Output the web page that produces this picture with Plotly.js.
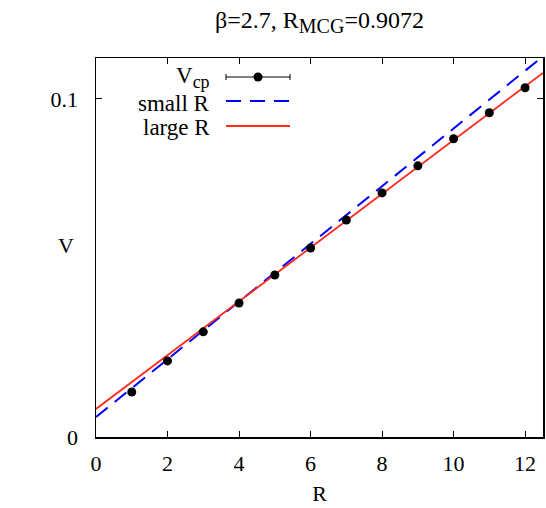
<!DOCTYPE html>
<html><head><meta charset="utf-8">
<script src="https://cdn.plot.ly/plotly-3.0.1.min.js"></script>
<style>html,body{margin:0;padding:0;background:#fff}#c{width:546px;height:508px}</style>
</head><body><div id="c"></div>
<script>
const R = [1,2,3,4,5,6,7,8,9,10,11,12];
const Vcp = [0.0133,0.0225,0.0311,0.0396,0.0479,0.0559,0.0642,0.0722,0.0802,0.0882,0.0959,0.1033];
const smallR_x = [0, 12.5];
const smallR_y = [0.0059, 0.1126];
const largeR_x = [0, 12.5];
const largeR_y = [0.0083, 0.1077];
const xTicks = [0,2,4,6,8,10,12];
const yTicks = [0, 0.1];
const yTickText = ['0','0.1'];

const F = 'Liberation Serif, Times New Roman, serif';
const traces = [
  {x: smallR_x, y: smallR_y, mode:'lines', line:{color:'#0000ff', width:2, dash:'15px,9px'}, showlegend:false, hoverinfo:'skip'},
  {x: largeR_x, y: largeR_y, mode:'lines', line:{color:'#ff2a1a', width:1.8}, showlegend:false, hoverinfo:'skip'},
  {x: R, y: Vcp, mode:'markers', marker:{color:'#000', size:9}, showlegend:false}
];

function px(p){return (p-96)/447;}
function py(p){return (437-p)/379;}

const shapes = [
  {type:'line', xref:'paper', yref:'paper', x0:px(226), x1:px(290), y0:py(77), y1:py(77), line:{color:'#000', width:1}},
  {type:'line', xref:'paper', yref:'paper', x0:px(226), x1:px(226), y0:py(74), y1:py(80), line:{color:'#000', width:1}},
  {type:'line', xref:'paper', yref:'paper', x0:px(290), x1:px(290), y0:py(74), y1:py(80), line:{color:'#000', width:1}},
  {type:'circle', xref:'paper', yref:'paper', xsizemode:'pixel', ysizemode:'pixel', xanchor:px(258), yanchor:py(77), x0:-4.5, x1:4.5, y0:-4.5, y1:4.5, fillcolor:'#000', line:{color:'#000', width:0}},
  {type:'line', xref:'paper', yref:'paper', x0:px(226), x1:px(290), y0:py(101), y1:py(101), line:{color:'#0000ff', width:2, dash:'15px,9px'}},
  {type:'line', xref:'paper', yref:'paper', x0:px(226), x1:px(290), y0:py(126), y1:py(126), line:{color:'#ff2a1a', width:1.8}}
];

const LF = {family:F, size:23, color:'#000'};
const annotations = [
  {xref:'paper', yref:'paper', x:px(212), y:py(78), xanchor:'right', yanchor:'middle', showarrow:false, text:'V<sub><span style="font-size:18px">cp</span></sub>', font:LF},
  {xref:'paper', yref:'paper', x:px(212), y:py(103), xanchor:'right', yanchor:'middle', showarrow:false, text:'small R', font:LF},
  {xref:'paper', yref:'paper', x:px(212), y:py(127), xanchor:'right', yanchor:'middle', showarrow:false, text:'large R', font:LF},
  {xref:'paper', yref:'paper', x:px(66), y:py(245), xanchor:'center', yanchor:'middle', showarrow:false, text:'V', font:{family:F, size:22, color:'#000'}}
];

const layout = {
  width:546, height:508,
  margin:{l:96, r:3, t:58, b:71},
  paper_bgcolor:'#fff', plot_bgcolor:'#fff',
  font:{family:F, size:22, color:'#000'},
  title:{text:'β=2.7, R<sub><span style="font-size:20px">MCG</span></sub>=0.9072', x:(96+543)/2/546, xanchor:'center', y:1-20/508, yanchor:'middle', font:{family:F, size:24, color:'#000'}},
  xaxis:{range:[0,12.5], tickvals:xTicks, ticks:'inside', ticklen:6, tickcolor:'#000', mirror:'ticks', showline:true, linecolor:'#000', linewidth:1.5, showgrid:false, zeroline:false, tickfont:{family:F, size:22}, ticklabelstandoff:6, title:{text:'R', font:{family:F, size:22}, standoff:10}},
  yaxis:{range:[0,0.1121], tickvals:yTicks, ticktext:yTickText, ticks:'inside', ticklen:6, tickcolor:'#000', mirror:'ticks', showline:true, linecolor:'#000', linewidth:1.5, showgrid:false, zeroline:false, tickfont:{family:F, size:22}, ticklabelstandoff:12},
  shapes:shapes, annotations:annotations, showlegend:false
};
Plotly.newPlot('c', traces, layout, {displayModeBar:false, staticPlot:true});
</script></body></html>
